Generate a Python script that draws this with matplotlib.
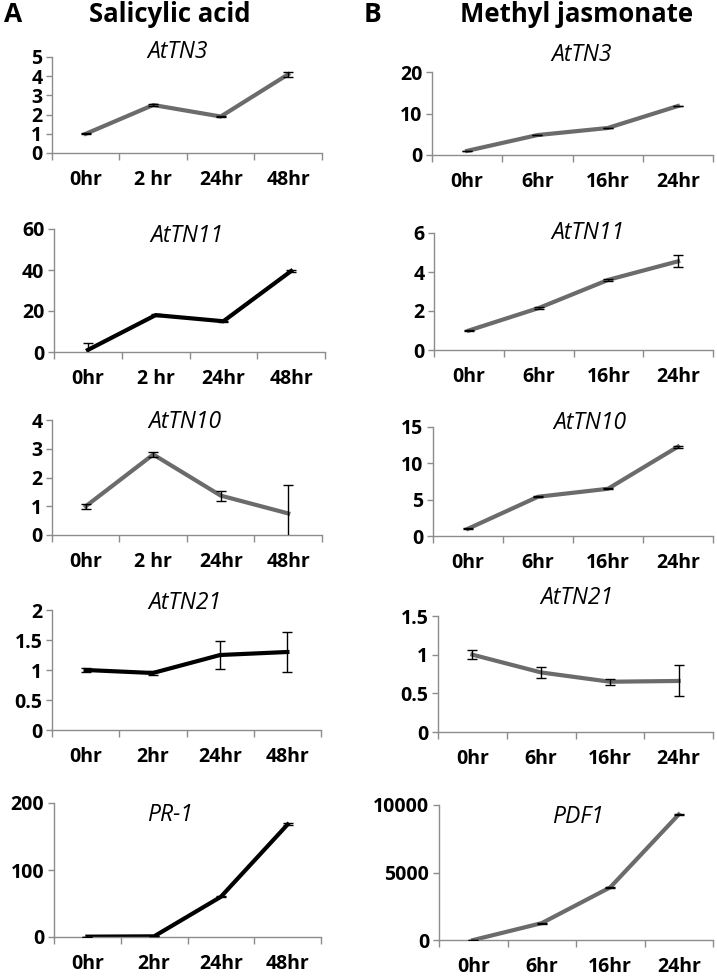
import matplotlib
matplotlib.use("Agg")
import matplotlib.pyplot as plt

plt.rcParams['font.family'] = ['Open Sans', 'DejaVu Sans']

W, H = 717, 977

# ---- data ----
sa_times = ["0hr", "2 hr", "24hr", "48hr"]
sa_times2 = ["0hr", "2hr", "24hr", "48hr"]
mj_times = ["0hr", "6hr", "16hr", "24hr"]

sa_tn3 = [1.0, 2.5, 1.9, 4.1]
sa_tn3_err = [0.03, 0.04, 0.03, 0.12]
sa_tn11 = [1.0, 18.0, 15.0, 39.5]
sa_tn11_err = [3.5, 0.3, 0.3, 0.5]
sa_tn10 = [1.0, 2.8, 1.37, 0.75]
sa_tn10_err = [0.08, 0.1, 0.17, 1.0]
sa_tn21 = [1.0, 0.95, 1.25, 1.3]
sa_tn21_err = [0.03, 0.03, 0.23, 0.34]
sa_pr1 = [0.5, 1.0, 60.0, 168.0]
sa_pr1_err = [0.1, 0.1, 1.0, 1.5]

mj_tn3 = [1.0, 4.8, 6.5, 11.8]
mj_tn3_err = [0.05, 0.08, 0.08, 0.1]
mj_tn11 = [1.0, 2.15, 3.6, 4.55]
mj_tn11_err = [0.03, 0.03, 0.04, 0.3]
mj_tn10 = [1.0, 5.4, 6.5, 12.3]
mj_tn10_err = [0.05, 0.08, 0.08, 0.15]
mj_tn21 = [1.0, 0.77, 0.65, 0.66]
mj_tn21_err = [0.06, 0.07, 0.04, 0.2]
mj_pdf1 = [0.0, 1250.0, 3900.0, 9300.0]
mj_pdf1_err = [10, 30, 50, 60]

GRAY = "#6b6b6b"
BLACK = "#000000"

# panel specs: (title, labels, values, errors, ymax, step, color, left, right, top, bottom, title_xy)
panels = [
    ("AtTN3", sa_times, sa_tn3, sa_tn3_err, 5, 1, GRAY, 52, 322, 57, 153, (178, 52)),
    ("AtTN11", sa_times, sa_tn11, sa_tn11_err, 60, 20, BLACK, 54, 325, 229, 352, (187, 236)),
    ("AtTN10", sa_times, sa_tn10, sa_tn10_err, 4, 1, GRAY, 52, 322, 420, 535, (185, 422)),
    ("AtTN21", sa_times2, sa_tn21, sa_tn21_err, 2, 0.5, BLACK, 52, 321, 610, 730, (185, 603)),
    ("PR-1", sa_times2, sa_pr1, sa_pr1_err, 200, 100, BLACK, 54, 321, 803, 937, (170, 815)),
    ("AtTN3", mj_times, mj_tn3, mj_tn3_err, 20, 10, GRAY, 432, 713, 72, 155, (582, 55)),
    ("AtTN11", mj_times, mj_tn11, mj_tn11_err, 6, 2, GRAY, 434, 713, 233, 350, (588, 233)),
    ("AtTN10", mj_times, mj_tn10, mj_tn10_err, 15, 5, GRAY, 433, 713, 427, 536, (590, 423)),
    ("AtTN21", mj_times, mj_tn21, mj_tn21_err, 1.5, 0.5, GRAY, 438, 713, 616, 732, (577, 598)),
    ("PDF1", mj_times, mj_pdf1, mj_pdf1_err, 10000, 5000, GRAY, 439, 713, 805, 940, (578, 817)),
]

fig = plt.figure(figsize=(W / 100, H / 100), dpi=100)

for title, labels, vals, errs, ymax, step, color, l, r, t, b, (tx, ty) in panels:
    ax = fig.add_axes([l / W, 1 - b / H, (r - l) / W, (b - t) / H])
    x = list(range(len(vals)))
    ax.plot(x, vals, color=color, lw=3.0, solid_joinstyle='round', zorder=2)
    ax.errorbar(x, vals, yerr=errs, fmt='none', ecolor='black', elinewidth=1.0,
                capsize=3.5, capthick=1.0, zorder=3)
    ax.set_xlim(-0.5, len(vals) - 0.5)
    ax.set_ylim(0, ymax)
    yt = []
    v = 0
    while v <= ymax + 1e-9:
        yt.append(v)
        v += step
    ax.set_yticks(yt)
    ax.set_yticklabels([f"{y:g}" for y in yt])
    ax.set_xticks([i - 0.5 for i in range(len(vals) + 1)])
    ax.set_xticklabels([])
    ax.set_xticks(x, minor=True)
    ax.set_xticklabels(labels, minor=True)
    ax.tick_params(axis='x', which='major', length=5, width=1, color='#8c8c8c', direction='out')
    ax.tick_params(axis='x', which='minor', length=0, pad=12, labelsize=14)
    ax.tick_params(axis='y', length=4, width=1, color='#8c8c8c', direction='out', pad=3, labelsize=14)
    for lab in ax.get_xticklabels(minor=True) + ax.get_yticklabels():
        lab.set_fontweight('bold')
    for s in ['top', 'right']:
        ax.spines[s].set_visible(False)
    for s in ['left', 'bottom']:
        ax.spines[s].set_color('#8c8c8c')
        ax.spines[s].set_linewidth(1.0)
    fig.text(tx / W, 1 - ty / H, title, ha='center', va='center', fontsize=16.5, style='italic')

fig.text(13 / W, 1 - 15 / H, "A", ha='center', va='center', fontsize=19, fontweight='bold')
fig.text(170 / W, 1 - 15 / H, "Salicylic acid", ha='center', va='center', fontsize=18.5, fontweight='bold')
fig.text(373 / W, 1 - 15 / H, "B", ha='center', va='center', fontsize=19, fontweight='bold')
fig.text(577 / W, 1 - 15 / H, "Methyl jasmonate", ha='center', va='center', fontsize=18.5, fontweight='bold')

fig.savefig("out.png", dpi=100)
